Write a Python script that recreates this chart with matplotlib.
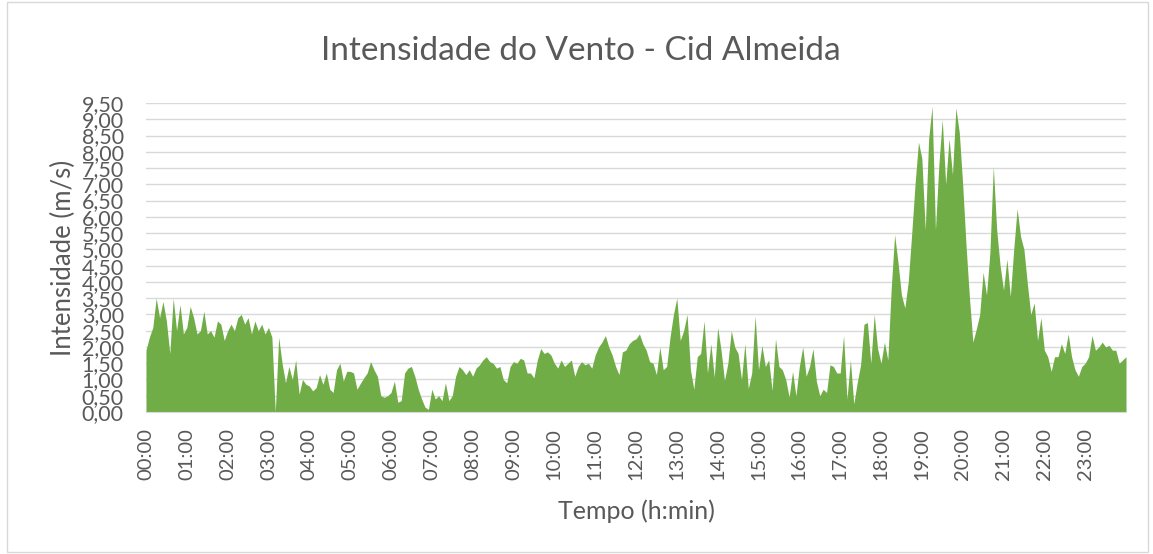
import matplotlib
matplotlib.use("Agg")
import matplotlib.pyplot as plt
import numpy as np
from matplotlib.patches import Rectangle

# wind speed (m/s), one value every 5 minutes, one row per hour
h00 = [1.9, 2.3, 2.6, 3.5, 2.9, 3.4, 2.8, 1.8, 3.5, 2.5, 3.3, 2.4]
h01 = [2.6, 3.25, 2.9, 2.4, 2.5, 3.1, 2.4, 2.5, 2.3, 2.8, 2.7, 2.2]
h02 = [2.5, 2.7, 2.5, 2.9, 3.0, 2.7, 2.9, 2.4, 2.8, 2.5, 2.7, 2.4]
h03 = [2.6, 2.3, 0.0, 2.3, 1.5, 0.9, 1.4, 1.0, 1.6, 0.55, 1.0, 0.85]
h04 = [0.8, 0.65, 0.75, 1.15, 0.85, 1.2, 0.7, 0.6, 1.3, 1.5, 0.95, 1.25]
h05 = [1.25, 1.2, 0.7, 0.88, 1.05, 1.2, 1.55, 1.3, 1.1, 0.5, 0.45, 0.5]
h06 = [0.6, 0.95, 0.3, 0.35, 1.2, 1.35, 1.4, 1.1, 0.7, 0.4, 0.15, 0.08]
h07 = [0.7, 0.4, 0.5, 0.35, 0.9, 0.35, 0.5, 1.1, 1.4, 1.3, 1.15, 1.3]
h08 = [1.1, 1.35, 1.45, 1.6, 1.7, 1.55, 1.5, 1.35, 1.4, 1.0, 0.9, 1.4]
h09 = [1.55, 1.5, 1.65, 1.6, 1.2, 1.2, 1.05, 1.6, 1.95, 1.8, 1.85, 1.75]
h10 = [1.5, 1.35, 1.6, 1.4, 1.5, 1.6, 1.1, 1.4, 1.55, 1.45, 1.5, 1.35]
h11 = [1.75, 2.0, 2.15, 2.35, 2.0, 1.75, 1.4, 1.15, 1.85, 1.9, 2.1, 2.2]
h12 = [2.25, 2.4, 2.1, 1.9, 1.55, 1.5, 1.15, 2.0, 1.3, 1.4, 2.3, 3.0]
h13 = [3.5, 2.2, 2.5, 3.0, 1.3, 0.7, 1.7, 1.8, 2.8, 1.2, 2.1, 1.07]
h14 = [2.6, 1.9, 0.97, 1.5, 2.5, 2.0, 1.8, 1.0, 2.1, 0.72, 1.2, 2.96]
h15 = [1.3, 2.05, 1.4, 1.6, 0.66, 2.25, 1.4, 1.3, 1.0, 0.46, 1.25, 0.5]
h16 = [1.4, 2.0, 1.1, 1.4, 1.95, 0.95, 0.5, 0.7, 0.6, 1.45, 1.4, 1.2]
h17 = [1.2, 2.35, 0.4, 1.6, 0.25, 0.9, 1.45, 2.7, 2.75, 1.5, 3.0, 1.95]
h18 = [1.5, 2.15, 1.6, 3.8, 5.45, 4.6, 3.6, 3.2, 4.0, 5.45, 7.0, 8.3]
h19 = [7.8, 5.6, 8.4, 9.4, 5.6, 7.6, 9.0, 7.0, 8.4, 7.3, 9.35, 8.6]
h20 = [7.0, 5.1, 3.5, 2.15, 2.55, 3.0, 4.3, 3.6, 4.9, 7.55, 5.6, 4.5]
h21 = [3.75, 4.7, 3.55, 5.0, 6.25, 5.4, 5.0, 3.95, 3.0, 3.35, 2.2, 2.9]
h22 = [1.9, 1.7, 1.25, 1.7, 1.7, 2.1, 1.8, 2.4, 1.7, 1.3, 1.1, 1.4]
h23 = [1.5, 1.7, 2.35, 1.9, 2.0, 2.15, 2.0, 2.05, 1.9, 1.9, 1.5, 1.6]
last = [1.7]

speed = np.array(h00 + h01 + h02 + h03 + h04 + h05 + h06 + h07 + h08 + h09
                 + h10 + h11 + h12 + h13 + h14 + h15 + h16 + h17 + h18 + h19
                 + h20 + h21 + h22 + h23 + last)
minutes = np.arange(len(speed)) * 5

hour_labels = [f"{h:02d}:00" for h in range(24)]
y_ticks = np.arange(0, 9.51, 0.5)

grey = "#595959"
plt.rcParams["font.family"] = ["Lato", "DejaVu Sans"]

fig = plt.figure(figsize=(11.53, 5.54), dpi=100)
ax = fig.add_axes([0.1266, 0.2563, 0.85, 0.5578])

ax.fill_between(minutes, speed, 0, color="#70AD47", linewidth=0)

ax.set_xlim(0, 1440)
ax.set_ylim(0, 9.5)
ax.set_yticks(y_ticks)
ax.set_yticklabels([f"{v:.2f}".replace(".", ",") for v in y_ticks])
ax.set_xticks(np.arange(24) * 60)
ax.set_xticklabels(hour_labels, rotation=90)
ax.tick_params(axis="both", length=0, labelcolor=grey)
ax.tick_params(axis="x", pad=11.5, labelsize=14.5)
ax.tick_params(axis="y", pad=16, labelsize=15.5)

ax.grid(axis="y", color="#D9D9D9", linewidth=1.0)
ax.set_axisbelow(True)
for side in ["top", "right", "left"]:
    ax.spines[side].set_visible(False)
ax.spines["bottom"].set_color("#D9D9D9")

ax.set_xlabel("Tempo (h:min)", fontsize=18, color=grey, labelpad=14)
ax.set_ylabel("Intensidade (m/s)", fontsize=18.5, color=grey, labelpad=4)
fig.suptitle("Intensidade do Vento - Cid Almeida", x=0.504, y=0.935,
             fontsize=24, color=grey)

fig.patches.append(Rectangle((0.006, 0.004), 0.99, 0.992, transform=fig.transFigure,
                             fill=False, edgecolor="#D9D9D9", linewidth=1))

fig.savefig("out.png", dpi=100)
